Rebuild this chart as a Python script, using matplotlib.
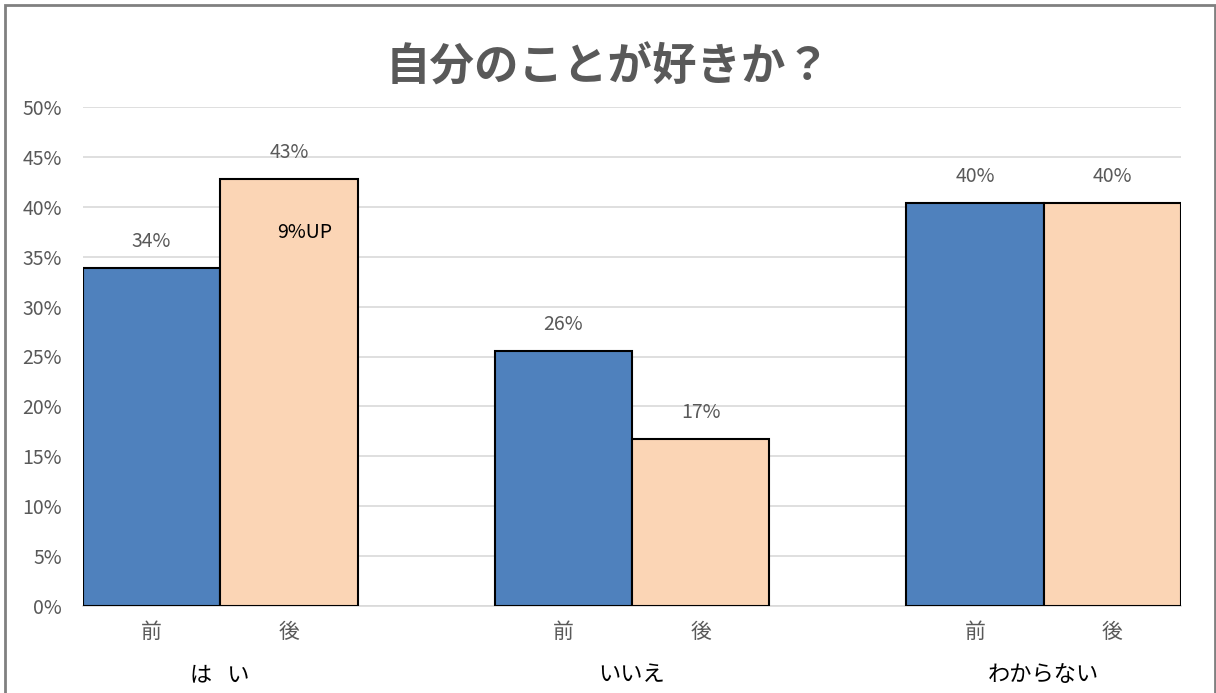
import matplotlib.pyplot as plt
from matplotlib.patches import Rectangle
from matplotlib.transforms import blended_transform_factory
import numpy as np

plt.rcParams['font.family'] = ['Noto Sans CJK JP', 'DejaVu Sans']

# データ
categories = ['は   い', 'いいえ', 'わからない']
series_names = ['前', '後']
before = [0.339, 0.256, 0.404]
after = [0.428, 0.167, 0.404]
before_labels = ['34%', '26%', '40%']
after_labels = ['43%', '17%', '40%']
yticks = [0.0, 0.05, 0.10, 0.15, 0.20, 0.25, 0.30, 0.35, 0.40, 0.45, 0.50]
ytick_labels = ['0%', '5%', '10%', '15%', '20%', '25%', '30%', '35%', '40%', '45%', '50%']
note_text = '9%UP'
note_pos = (0.206, 0.374)

blue = '#4F81BD'
peach = '#FBD5B5'
gray_text = '#595959'

fig = plt.figure(figsize=(12.16, 6.93), dpi=100)
ax = fig.add_axes([83 / 1216, 87 / 693, 1098 / 1216, 499 / 693])

x = np.arange(len(categories))
w = 1 / 3
bars_b = ax.bar(x - w / 2, before, width=w, color=blue, edgecolor='black', linewidth=1.5, zorder=3)
bars_a = ax.bar(x + w / 2, after, width=w, color=peach, edgecolor='black', linewidth=1.5, zorder=3)

for bars, labels in [(bars_b, before_labels), (bars_a, after_labels)]:
    for b, lab in zip(bars, labels):
        ax.annotate(lab, (b.get_x() + b.get_width() / 2, b.get_height()),
                    xytext=(0, 19), textcoords='offset points',
                    ha='center', va='center', fontsize=14, color=gray_text)

ax.text(note_pos[0], note_pos[1], note_text, ha='center', va='center', fontsize=14, color='black', zorder=4)

ax.set_xlim(-1 / 3, len(categories) - 1 + 1 / 3)
ax.set_ylim(0, 0.5)
ax.set_yticks(yticks)
ax.set_yticklabels(ytick_labels, fontsize=14, color=gray_text)
ax.yaxis.grid(True, color='#d9d9d9', linewidth=1.2, zorder=0)
ax.set_axisbelow(True)

ticks = []
tick_labels = []
for i in x:
    ticks += [i - w / 2, i + w / 2]
    tick_labels += series_names
ax.set_xticks(ticks)
ax.set_xticklabels(tick_labels, fontsize=15, color=gray_text)
ax.tick_params(axis='x', length=0, pad=11)
ax.tick_params(axis='y', length=0, pad=15)

trans = blended_transform_factory(ax.transData, ax.transAxes)
for i, cat in zip(x, categories):
    ax.text(i, -0.138, cat, transform=trans, ha='center', va='center', fontsize=16, color='black')

for s in ['left', 'right', 'top']:
    ax.spines[s].set_visible(False)
ax.spines['bottom'].set_color('#d9d9d9')
ax.spines['bottom'].set_linewidth(1.2)

fig.text(0.5, 1 - 68 / 693, '自分のことが好きか？', ha='center', va='center',
         fontsize=32, fontweight='bold', color=gray_text)

fig.patches.append(Rectangle((5 / 1216, -0.05), 1210 / 1216, 1.05 - 5 / 693,
                             transform=fig.transFigure, fill=False,
                             edgecolor='#808080', linewidth=2))

fig.savefig('out.png', dpi=100)
